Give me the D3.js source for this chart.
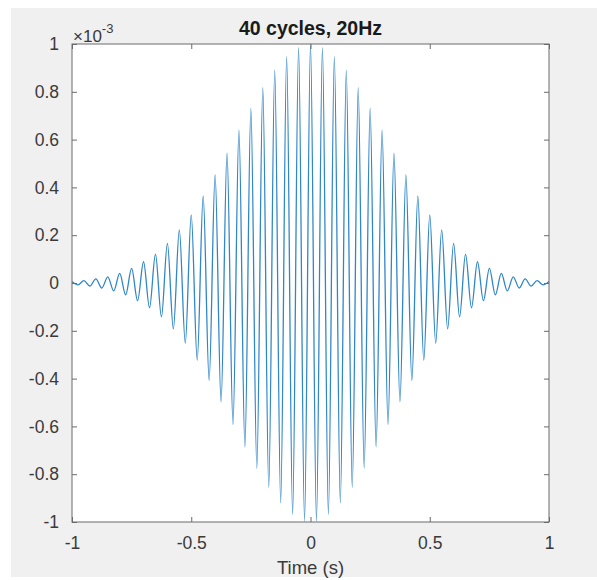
<!DOCTYPE html>
<html>
<head>
<meta charset="utf-8">
<script src="https://cdn.jsdelivr.net/npm/d3@7"></script>
<style>
  html, body { margin: 0; padding: 0; background: #ffffff; }
  text { font-family: Arial, "Liberation Sans", Helvetica, sans-serif; }
</style>
</head>
<body>
<svg width="597" height="580"></svg>
<script>
// extrema of the wavelet, values in units of 1e-3
const peakTimes = [-1, -0.95, -0.9, -0.85, -0.8, -0.75, -0.7, -0.65, -0.6, -0.55, -0.5,
    -0.45, -0.4, -0.35, -0.3, -0.25, -0.2, -0.15, -0.1, -0.05, 0,
    0.05, 0.1, 0.15, 0.2, 0.25, 0.3, 0.35, 0.4, 0.45, 0.5,
    0.55, 0.6, 0.65, 0.7, 0.75, 0.8, 0.85, 0.9, 0.95, 1]
const peakValues = [0.006, 0.010, 0.017, 0.026, 0.040, 0.061, 0.089, 0.121, 0.166, 0.222, 0.285,
    0.364, 0.452, 0.543, 0.640, 0.731, 0.817, 0.891, 0.947, 0.985, 1.0,
    0.985, 0.947, 0.891, 0.817, 0.731, 0.640, 0.543, 0.452, 0.364, 0.285,
    0.222, 0.166, 0.121, 0.089, 0.061, 0.040, 0.026, 0.017, 0.010, 0.006]

const troughTimes = [-0.975, -0.925, -0.875, -0.825, -0.775, -0.725, -0.675, -0.625, -0.575, -0.525,
    -0.475, -0.425, -0.375, -0.325, -0.275, -0.225, -0.175, -0.125, -0.075, -0.025,
    0.025, 0.075, 0.125, 0.175, 0.225, 0.275, 0.325, 0.375, 0.425, 0.475,
    0.525, 0.575, 0.625, 0.675, 0.725, 0.775, 0.825, 0.875, 0.925, 0.975]
const troughValues = [-0.008, -0.013, -0.021, -0.033, -0.050, -0.074, -0.104, -0.142, -0.192, -0.252,
    -0.323, -0.407, -0.497, -0.592, -0.686, -0.775, -0.855, -0.920, -0.968, -0.996,
    -0.996, -0.968, -0.920, -0.855, -0.775, -0.686, -0.592, -0.497, -0.407, -0.323,
    -0.252, -0.192, -0.142, -0.104, -0.074, -0.050, -0.033, -0.021, -0.013, -0.008]

const xTicks = [-1, -0.5, 0, 0.5, 1]
const yTicks = [-1, -0.8, -0.6, -0.4, -0.2, 0, 0.2, 0.4, 0.6, 0.8, 1]

const titleText = '40 cycles, 20Hz'
const xLabelText = 'Time (s)'

const svg = d3.select('svg')
const plotLeft = 72, plotRight = 549, plotTop = 44, plotBottom = 522
const axisColor = '#6a6a6a'
const textColor = '#3a3a3a'

// plain hyphen minus like matlab
const fmt = d => String(+d.toFixed(1))

// figure background
svg.append('rect')
    .attr('x', 11).attr('y', 8)
    .attr('width', 586).attr('height', 569)
    .attr('fill', '#f0f0f0')

svg.append('rect')
    .attr('x', plotLeft).attr('y', plotTop)
    .attr('width', plotRight - plotLeft).attr('height', plotBottom - plotTop)
    .attr('fill', '#ffffff')

const x = d3.scaleLinear().domain([-1, 1]).range([plotLeft, plotRight])
const y = d3.scaleLinear().domain([-1, 1]).range([plotBottom, plotTop])

const points = peakTimes.map((t, i) => ({t: t, v: peakValues[i]}))
    .concat(troughTimes.map((t, i) => ({t: t, v: troughValues[i]})))
    .sort((a, b) => a.t - b.t)

const line = d3.line()
    .x(d => x(d.t))
    .y(d => y(d.v))
    .curve(d3.curveMonotoneX)

svg.append('path')
    .datum(points)
    .attr('d', line)
    .attr('fill', 'none')
    .attr('stroke', '#2f86c8')
    .attr('stroke-width', 1.3)

const tickLen = 5

function styleAxis(g) {
    g.select('.domain').remove()
    g.selectAll('.tick line').attr('stroke', axisColor)
    g.selectAll('.tick text')
        .attr('fill', textColor)
        .style('font-size', '17.5px')
}

// bottom and left axes with inward ticks
svg.append('g')
    .attr('transform', `translate(0,${plotBottom})`)
    .call(d3.axisBottom(x).tickValues(xTicks).tickSizeInner(-tickLen).tickSizeOuter(0)
        .tickPadding(15).tickFormat(fmt))
    .call(styleAxis)

svg.append('g')
    .attr('transform', `translate(${plotLeft},0)`)
    .call(d3.axisLeft(y).tickValues(yTicks).tickSizeInner(-tickLen).tickSizeOuter(0)
        .tickPadding(13).tickFormat(fmt))
    .call(styleAxis)

// top and right ticks, no labels
svg.append('g')
    .attr('transform', `translate(0,${plotTop})`)
    .call(d3.axisTop(x).tickValues(xTicks).tickSizeInner(-tickLen).tickSizeOuter(0).tickFormat(''))
    .call(styleAxis)

svg.append('g')
    .attr('transform', `translate(${plotRight},0)`)
    .call(d3.axisRight(y).tickValues(yTicks).tickSizeInner(-tickLen).tickSizeOuter(0).tickFormat(''))
    .call(styleAxis)

// box
svg.append('rect')
    .attr('x', plotLeft).attr('y', plotTop)
    .attr('width', plotRight - plotLeft).attr('height', plotBottom - plotTop)
    .attr('fill', 'none')
    .attr('stroke', axisColor)
    .attr('stroke-width', 1)

// exponent label
const expo = svg.append('text')
    .attr('x', plotLeft + 1).attr('y', 42)
    .attr('fill', textColor)
    .style('font-size', '17px')
expo.append('tspan').text('\u00d710')
expo.append('tspan').attr('dy', -9).style('font-size', '13px').text('-3')

svg.append('text')
    .attr('x', (plotLeft + plotRight) / 2).attr('y', 35)
    .attr('text-anchor', 'middle')
    .attr('fill', '#1a1a1a')
    .style('font-size', '19.5px')
    .style('font-weight', 'bold')
    .text(titleText)

svg.append('text')
    .attr('x', (plotLeft + plotRight) / 2).attr('y', 574)
    .attr('text-anchor', 'middle')
    .attr('fill', textColor)
    .style('font-size', '18.5px')
    .text(xLabelText)
</script>
</body>
</html>
